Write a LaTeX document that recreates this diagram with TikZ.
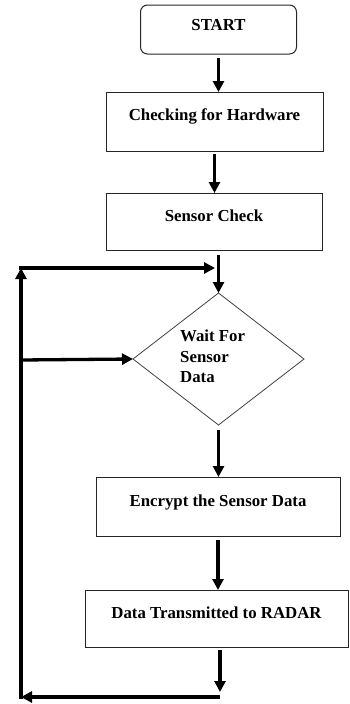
\documentclass[tikz,border=0pt]{standalone}
\usepackage{fontspec}
\setmainfont{Liberation Serif}
\usetikzlibrary{shapes.geometric,arrows.meta,calc}
\begin{document}
\begin{tikzpicture}[x=1pt,y=-1pt,
  every node/.style={font=\fontsize{16.8}{20.5}\selectfont\bfseries},
  box/.style={draw=black!85, line width=1pt, inner sep=0pt, outer sep=0pt},
  decision/.style={diamond, draw=black!75, line width=0.8pt, inner sep=0pt, outer sep=0pt},
  flow/.style={line width=3.3pt, -{Triangle[length=11pt,width=11pt]}}]
\useasboundingbox (0,0) rectangle (349,704);

% process steps
\node[box, rounded corners=7pt, minimum width=156, minimum height=49,
      text height=11, text depth=10] (start) at (218.5,29.5) {START};
\node[box, minimum width=217, minimum height=59,
      text height=12, text depth=15] (hw) at (214.5,121.5) {Checking for Hardware};
\node[box, minimum width=216, minimum height=57,
      text height=11, text depth=11] (sc) at (214,221.5) {Sensor Check};
\node[decision, minimum width=171, minimum height=132] (dia) at (218.5,359) {};
\node[anchor=north west, align=left, inner sep=0pt] (waittxt) at (180,330)
      {Wait For\\Sensor\\Data};
\node[box, minimum width=244, minimum height=59,
      text height=11, text depth=12] (enc) at (218,506.5) {Encrypt the Sensor Data};
\node[box, minimum width=263, minimum height=57,
      text height=11, text depth=12] (tx) at (216.5,618.5) {Data Transmitted to RADAR};

% loop-back corners
\coordinate (bot) at (220,692);
\coordinate (botL) at (21,697);
\coordinate (topL) at (21,268);
\coordinate (topR) at (215,268);
\coordinate (midL) at (21,360);

% main flow
\draw[flow, shorten <=4pt] (start.south) -- (start.south |- hw.north);
\draw[flow, shorten <=3pt] (hw.south) -- (hw.south |- sc.north);
\draw[flow, shorten <=5pt] (sc.south -| dia.north) -- (dia.north);
\draw[flow, shorten <=5pt] (dia.south) -- (dia.south |- enc.north);
\draw[flow, shorten <=4pt] (enc.south) -- (enc.south |- tx.north);
\draw[flow, shorten <=3pt] (tx.south -| bot) -- (bot);

% loop back to the decision
\draw[flow] (bot |- botL) -- (botL);
\draw[flow, shorten <=-1.6pt] (botL) -- (topL);
\draw[flow, shorten <=-1.6pt] (topL) -- (topR);
\draw[flow] (midL) -- (dia.west);
\end{tikzpicture}
\end{document}
